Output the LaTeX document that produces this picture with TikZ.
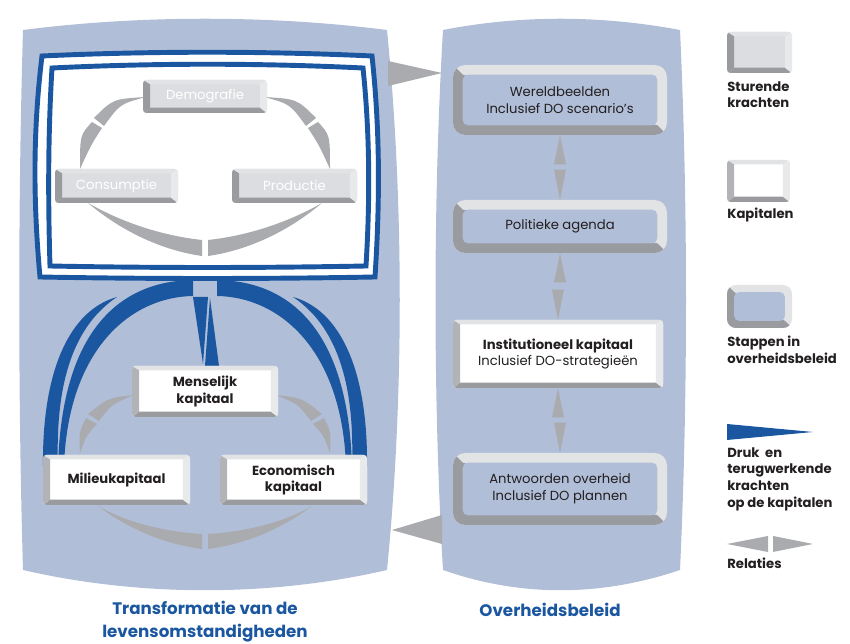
\documentclass[tikz,border=0pt]{standalone}
\usepackage{fontspec}
\setmainfont{Poppins}
\usetikzlibrary{calc}

\definecolor{panel}{RGB}{176,190,215}
\definecolor{dblue}{RGB}{27,87,160}
\definecolor{relgrey}{RGB}{170,171,175}
\definecolor{face}{RGB}{220,221,224}
\definecolor{bevtop}{RGB}{226,227,229}
\definecolor{bevside}{RGB}{232,233,235}
\definecolor{bevmid}{RGB}{178,179,183}
\definecolor{bevdark}{RGB}{154,155,159}
\definecolor{ink}{RGB}{35,31,32}

\newcommand{\px}{0.02cm}
\newcommand{\lbl}{\fontsize{7.5}{9.6}\selectfont}

\tikzset{
  bevel/.style n args={4}{path picture={
    \coordinate (bnw) at (path picture bounding box.north west);
    \coordinate (bne) at (path picture bounding box.north east);
    \coordinate (bsw) at (path picture bounding box.south west);
    \coordinate (bse) at (path picture bounding box.south east);
    \fill[#1, sharp corners] (bnw) -- (bne) -- ($(bne)+(-4pt,-2.5pt)$) -- ($(bnw)+(4pt,-2.5pt)$) -- cycle;
    \fill[#4, sharp corners] (bsw) -- (bse) -- ($(bse)+(-4pt,3pt)$) -- ($(bsw)+(4pt,3pt)$) -- cycle;
    \fill[#2, sharp corners] (bnw) -- ($(bnw)+(4pt,-2.5pt)$) -- ($(bsw)+(4pt,3pt)$) -- (bsw) -- cycle;
    \fill[#3, sharp corners] (bne) -- ($(bne)+(-4pt,-2.5pt)$) -- ($(bse)+(-4pt,3pt)$) -- (bse) -- cycle;
  }},
  stuur/.style={rounded corners=2pt, inner sep=0pt, fill=face, text=white, font=\lbl,
    bevel={bevtop}{bevdark}{bevside}{bevdark}},
  kap/.style={rounded corners=2pt, inner sep=0pt, fill=white, text=ink, font=\lbl\bfseries, align=center,
    bevel={bevtop}{bevmid}{bevside}{bevdark}},
  stap/.style={rounded corners=7pt, inner sep=0pt, fill=bevtop, text=ink, font=\lbl, align=center,
    path picture={
      \fill[bevdark, sharp corners] (path picture bounding box.north west) -- ++(#1,-#1)
        -- ($(path picture bounding box.south east)+(-#1,#1)$) -- (path picture bounding box.south east)
        -- (path picture bounding box.south west) -- cycle;
      \fill[panel, rounded corners=3pt] ($(path picture bounding box.north west)+(#1,-#1)$)
        rectangle ($(path picture bounding box.south east)+(-#1,#1)$);
    }},
  stap/.default=5.5pt,
  legtext/.style={anchor=north west, inner sep=0pt, align=left, text=ink, font=\lbl\bfseries},
  title/.style={text=dblue, font=\fontsize{9.5}{13}\selectfont\bfseries, align=center},
}

\begin{document}
\begin{tikzpicture}[x=0.02cm, y=-0.02cm]
\useasboundingbox (0,0) rectangle (850,644);

% panels
\fill[panel] (23,30) .. controls (140,15) and (270,15) .. (387,30) .. controls (404,200) and (404,400) .. (387,570)
  .. controls (270,597) and (140,597) .. (23,570) .. controls (18,400) and (18,200) .. (23,30) -- cycle;
\fill[panel] (443,30) .. controls (520,15) and (600,15) .. (680,30) .. controls (688,200) and (688,400) .. (680,570)
  .. controls (600,597) and (520,597) .. (443,570) .. controls (433,400) and (433,200) .. (443,30) -- cycle;

% relations between the panels
\fill[relgrey] (388,61) -- (442,73) -- (388,86) -- cycle;
\fill[relgrey] (442,515) -- (392,530) -- (442,544) -- cycle;

% frame of the driving forces
\draw[dblue, line width=2.8pt, fill=white] (42,56) .. controls (150,51) and (265,51) .. (372,56)
  .. controls (380,130) and (380,200) .. (375,277) .. controls (265,279) and (150,279) .. (40,277)
  .. controls (33,200) and (33,130) .. (42,56) -- cycle;
\draw[dblue, line width=2.8pt] (52,68) .. controls (155,63) and (260,63) .. (363,68)
  .. controls (370,135) and (370,200) .. (366,266) .. controls (260,268) and (155,268) .. (50,266)
  .. controls (48,200) and (48,135) .. (52,68) -- cycle;

\foreach \s/\d in {1/0,-1/410}{
\begin{scope}[shift={(\d,0)}, xscale=\s]
  % relations of the driving forces
  \fill[relgrey] (146,97) .. controls (113,99) .. (94,118) -- (104,126) .. controls (120,104) .. (146,97) -- cycle;
  \fill[relgrey] (92,122) .. controls (80,135) .. (80,169) .. controls (91,145) .. (102,128) -- cycle;
  \fill[relgrey] (88,203) .. controls (120,230) and (160,250) .. (202,256) -- (202,240)
    .. controls (165,236) and (125,224) .. (88,203) -- cycle;
  % pressure and feedback
  \fill[dblue] (193,280) .. controls (120,281) and (62,330) .. (58,466) -- (64,466)
    .. controls (68,350) and (130,297) .. (193,296) -- cycle;
  \fill[dblue] (117,297) .. controls (70,310) and (42,370) .. (43,466) -- (58,466)
    .. controls (55,380) and (75,325) .. (117,297) -- cycle;
  % relations of the capitals
  \fill[relgrey] (134,395) .. controls (108,398) .. (88,414) -- (99,421) .. controls (112,404) .. (134,395) -- cycle;
  \fill[relgrey] (86,418) .. controls (79,432) .. (80,453) .. controls (86,436) .. (97,424) -- cycle;
  \fill[relgrey] (98,506) .. controls (130,530) and (165,544) .. (202,549) -- (202,534)
    .. controls (165,532) and (125,522) .. (98,506) -- cycle;
\end{scope}
}
\fill[dblue] (193,297) -- (208,297) -- (203,364) -- cycle;
\fill[dblue] (210,298) -- (219,366) -- (205,366) -- cycle;

% driving forces
\node[stuur, minimum width=124*\px, minimum height=33*\px] (dem) at (205,96.5) {Demografie};
\node[stuur, minimum width=123*\px, minimum height=34*\px] (con) at (116.5,186) {Consumptie};
\node[stuur, minimum width=125*\px, minimum height=34*\px] (pro) at (294.5,186) {Productie};

% capitals
\node[kap, minimum width=146*\px, minimum height=51*\px] (mens) at (205,391.5) {Menselijk\\kapitaal};
\node[kap, minimum width=147*\px, minimum height=50*\px] (milieu) at (116.5,480) {Milieukapitaal};
\node[kap, minimum width=147*\px, minimum height=50*\px] (econ) at (293.5,480) {Economisch\\kapitaal};

% policy steps
\node[stap, minimum width=214*\px, minimum height=70*\px] (wereld) at (560,100) {Wereldbeelden\\Inclusief DO scenario's};
\node[stap, minimum width=214*\px, minimum height=53*\px] (agenda) at (560,226.5) {Politieke agenda};
\node[kap, minimum width=210*\px, minimum height=68*\px] (instit) at (558,354) {Institutioneel kapitaal\\\mdseries Inclusief DO-strategieën};
\node[stap, minimum width=214*\px, minimum height=72*\px] (antwoord) at (560,489) {Antwoorden overheid\\Inclusief DO plannen};

\foreach \a/\b in {wereld/agenda, agenda/instit, instit/antwoord}{
  \fill[relgrey] (\a.south) -- ++(6,29) -- ++(-12,0) -- cycle;
  \fill[relgrey] (\b.north) -- ++(6,-30) -- ++(-12,0) -- cycle;
}

% legend
\node[stuur, minimum width=65*\px, minimum height=41*\px] (lstuur) at (759.5,52.5) {};
\node[legtext] (lstuurtxt) at (727,81) {Sturende\\krachten};
\node[kap, minimum width=63*\px, minimum height=42*\px] (lkap) at (758.5,181) {};
\node[legtext] (lkaptxt) at (727,208) {Kapitalen};
\node[stap=4pt, minimum width=65*\px, minimum height=43*\px, rounded corners=5pt] (lstap) at (759.5,306.5) {};
\node[legtext] (lstaptxt) at (727,336) {Stappen in\\overheidsbeleid};
\fill[dblue] (727,424) -- (813,432) -- (727,440) -- cycle;
\node[legtext] (ldruktxt) at (727,447) {Druk\ \ en\\terugwerkende\\krachten\\op de kapitalen};
\fill[relgrey] (727,544) -- (768,536) -- (768,552) -- cycle;
\fill[relgrey] (773,536) -- (813,544) -- (773,552) -- cycle;
\node[legtext] (lreltxt) at (727,558) {Relaties};

% titles
\node[title] (ttrans) at (205,622) {Transformatie van de\\levensomstandigheden};
\node[title] (tbeleid) at (550,610) {Overheidsbeleid};
\end{tikzpicture}
\end{document}
